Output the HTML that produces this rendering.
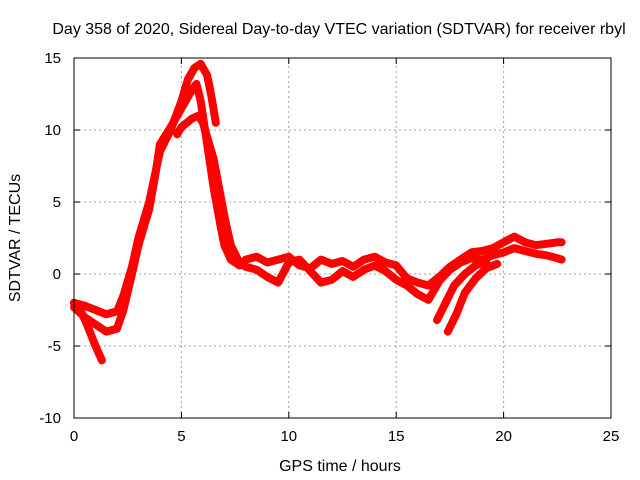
<!DOCTYPE html>
<html><head><meta charset="utf-8"><style>
body{margin:0;background:#fff}
svg{display:block;font-family:"Liberation Sans",sans-serif;font-size:15px}
</style></head><body>
<svg id="chart" width="640" height="480">
<text x="339" y="34" text-anchor="middle" font-size="16">Day 358 of 2020, Sidereal Day-to-day VTEC variation (SDTVAR) for receiver rbyl</text>
<text x="340" y="471" text-anchor="middle" font-size="16">GPS time / hours</text>
<text transform="translate(20,238) rotate(-90)" text-anchor="middle" font-size="16">SDTVAR / TECUs</text>
<g id="grid"></g>
<g id="series"></g>
<rect x="74" y="58" width="537" height="360" fill="none" stroke="#000" stroke-width="1"/>
<g id="ticks"></g>
</svg>
<script>
const xTicks=[0,5,10,15,20,25];
const yTicks=[-10,-5,0,5,10,15];
const trace1X=[0,0.5,1,1.5,2,2.3,2.7,3,3.5,4,4.5,5,5.3,5.6,5.9,6.2,6.4,6.6];
const trace1Y=[-2,-2.2,-2.5,-2.8,-2.6,-1.5,0.5,2.5,5,8.5,10,12,13.5,14.3,14.6,13.8,12.3,10.5];
const trace2X=[0,0.5,1,1.5,2,2.3,2.7,3,3.5,3.8,4,4.5,5,5.5,5.7,5.9,6.2,6.5,6.8,7,7.3,7.7,8,8.5,9,9.5,10,10.5,11,11.5,12,12.5,13,13.5,14,14.5,15,15.5,16,16.5,17,17.5,18,18.5,19,19.5,20,20.5,21,21.5,22,22.5,22.7];
const trace2Y=[-2.3,-3,-3.5,-4,-3.8,-2.5,0,2,4.5,7,9,10.2,11.5,12.8,13.2,12,9,6,3.5,2,1,0.6,1,1.2,0.8,1,1.2,0.6,0.4,1,0.7,0.9,0.5,1,1.2,0.8,0.6,-0.3,-0.6,-0.8,-0.2,0.5,1,1.5,1.6,1.8,2.2,2.6,2.2,2,2.1,2.2,2.2];
const trace3X=[4.8,5,5.5,5.8,6,6.5,7,7.3,7.7,8,8.5,9,9.5,10,10.5,11,11.5,12,12.5,13,13.5,14,14.5,15,15.5,16,16.5,17,17.5,18,18.5,19,19.5,20,20.5,21,21.5,22,22.5,22.7];
const trace3Y=[9.7,10.2,10.8,11,10.5,8,4,2,0.8,0.5,0.3,-0.2,-0.6,0.8,1,0.2,-0.6,-0.4,0.2,-0.2,0.3,0.6,0.2,-0.4,-0.8,-1.4,-1.8,-0.5,0.3,0.8,1.1,1,1.3,1.5,1.8,1.6,1.4,1.3,1.1,1];
const trace4X=[0,0.3,0.6,1,1.3];
const trace4Y=[-2,-2.5,-3.5,-5,-6];
const trace5X=[16.9,17.3,17.7,18.2,18.7,19.2];
const trace5Y=[-3.2,-2,-0.8,0,0.6,0.9];
const trace6X=[17.4,17.8,18.2,18.7,19.2,19.7];
const trace6Y=[-4,-2.8,-1.3,-0.3,0.4,0.7];
const traceXs=[trace1X,trace2X,trace3X,trace4X,trace5X,trace6X];
const traceYs=[trace1Y,trace2Y,trace3Y,trace4Y,trace5Y,trace6Y];
const NS='http://www.w3.org/2000/svg';
const X0=74,X1=611,Y0=418,Y1=58;
function sx(v){return X0+(v-0)/(25-0)*(X1-X0);}
function sy(v){return Y0-(v+10)/25*(Y0-Y1);}
const grid=document.getElementById('grid'),ticks=document.getElementById('ticks'),ser=document.getElementById('series');
function mk(tag,attrs,parent){const e=document.createElementNS(NS,tag);for(const k in attrs)e.setAttribute(k,attrs[k]);parent.appendChild(e);return e;}
xTicks.forEach(t=>{
 const x=sx(t);
 if(t>0&&t<25){const g=mk('line',{x1:x,x2:x,y1:Y0,y2:Y1,stroke:'#a0a0a0','stroke-dasharray':'2,3'},grid);
 
 }
 mk('line',{x1:x,x2:x,y1:Y0,y2:Y0-6,stroke:'#000'},ticks);
 mk('line',{x1:x,x2:x,y1:Y1,y2:Y1+6,stroke:'#000'},ticks);
 const l=mk('text',{x:x,y:Y0+23,'text-anchor':'middle'},ticks);l.textContent=t;
 
 
});
yTicks.forEach(t=>{
 const y=sy(t);
 if(t>-10&&t<15){const g=mk('line',{x1:X0,x2:X1,y1:y,y2:y,stroke:'#a0a0a0','stroke-dasharray':'2,3'},grid);
 
 }
 mk('line',{x1:X0,x2:X0+6,y1:y,y2:y,stroke:'#000'},ticks);
 mk('line',{x1:X1,x2:X1-6,y1:y,y2:y,stroke:'#000'},ticks);
 const l=mk('text',{x:X0-13,y:y+5,'text-anchor':'end'},ticks);l.textContent=t;
 
 
});
traceXs.forEach((xs,i)=>{
 const ys=traceYs[i];
 const pts=xs.map((x,j)=>sx(x).toFixed(1)+','+sy(ys[j]).toFixed(1)).join(' ');
 const p=mk('polyline',{points:pts,fill:'none',stroke:'#ff0000','stroke-width':8,'stroke-linejoin':'round','stroke-linecap':'round'},ser);
 
 
});
</script>
</body></html>
